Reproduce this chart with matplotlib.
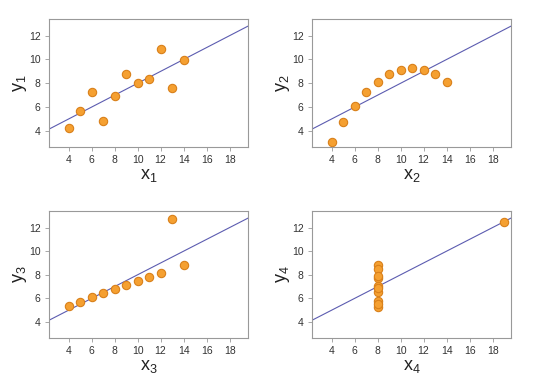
import numpy as np
import matplotlib
matplotlib.use("Agg")
import matplotlib.pyplot as plt

# Anscombe's quartet
x123 = [10, 8, 13, 9, 11, 14, 6, 4, 12, 7, 5]
y1 = [8.04, 6.95, 7.58, 8.81, 8.33, 9.96, 7.24, 4.26, 10.84, 4.82, 5.68]
y2 = [9.14, 8.14, 8.74, 8.77, 9.26, 8.10, 6.13, 3.10, 9.13, 7.26, 4.74]
y3 = [7.46, 6.77, 12.74, 7.11, 7.81, 8.84, 6.08, 5.39, 8.15, 6.42, 5.73]
x4 = [8, 8, 8, 8, 8, 8, 8, 19, 8, 8, 8]
y4 = [6.58, 5.76, 7.71, 8.84, 8.47, 7.04, 5.25, 12.50, 5.56, 7.91, 6.89]

xticks = [4, 6, 8, 10, 12, 14, 16, 18]
yticks = [4, 6, 8, 10, 12]

plt.rcParams['font.family'] = ['Liberation Sans', 'DejaVu Sans']
plt.rcParams['mathtext.default'] = 'regular'

fig = plt.figure(figsize=(5.43, 3.86), dpi=100)
W, H = 543, 386
# pixel boxes: left, top, right, bottom
boxes = [(49, 19, 248, 147), (312, 19, 511, 147),
         (49, 211, 248, 338), (312, 211, 511, 338)]
sets = [(x123, y1), (x123, y2), (x123, y3), (x4, y4)]

for i, ((l, t, r, b), (xs, ys)) in enumerate(zip(boxes, sets)):
    ax = fig.add_axes([l / W, 1 - b / H, (r - l) / W, (b - t) / H])
    xlo, xhi = 2.3, 19.6
    slope, icpt = np.polyfit(xs, ys, 1)
    lx = np.array([xlo, xhi])
    ax.plot(lx, icpt + slope * lx, color='#5c5cb0', lw=0.8, zorder=1)
    ax.scatter(xs, ys, s=36, color='#f5a031', edgecolors='#d9801a',
               linewidths=0.8, zorder=2)
    ax.set_xlim(xlo, xhi)
    ax.set_ylim(2.65, 13.4)
    ax.set_xticks(xticks)
    ax.set_yticks(yticks)
    for sp in ax.spines.values():
        sp.set_color('#999999')
        sp.set_linewidth(0.8)
    ax.tick_params(length=3, width=0.6, color='#999999', labelsize=7.5,
                   labelcolor='#333333', pad=3)
    ax.set_xlabel('$x_%d$' % (i + 1), fontsize=13, color='#222222', labelpad=1)
    ax.set_ylabel('$y_%d$' % (i + 1), fontsize=13, color='#222222', labelpad=0)

fig.savefig('out.png', dpi=100)
